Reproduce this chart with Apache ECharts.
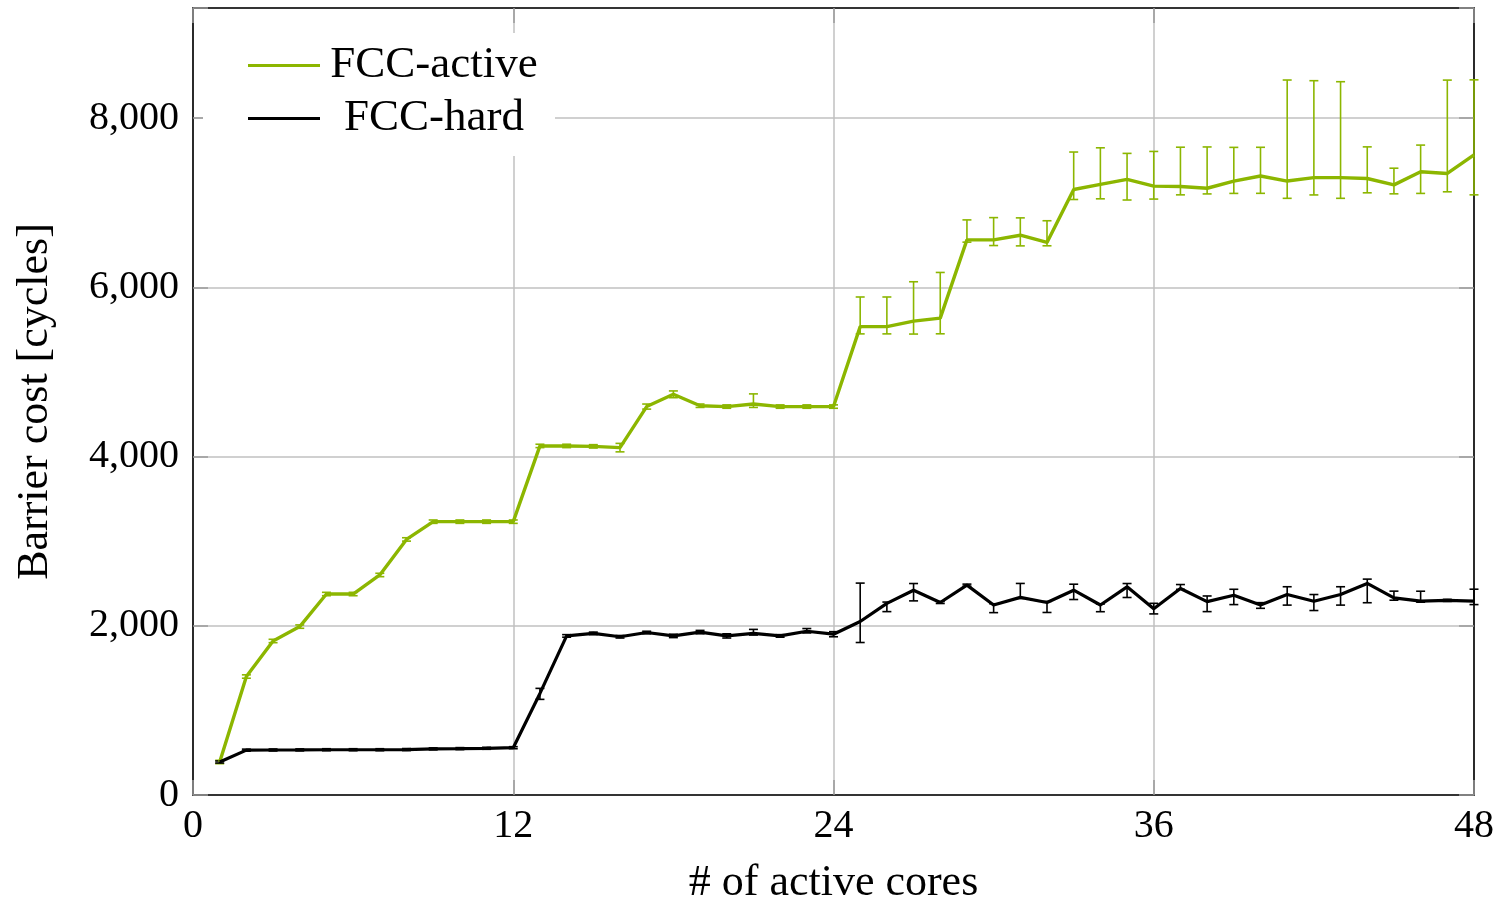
<!DOCTYPE html>
<html><head><meta charset="utf-8">
<script src="https://cdn.jsdelivr.net/npm/echarts@6/dist/echarts.min.js"></script>
<style>html,body{margin:0;padding:0;background:#fff}#c{width:1498px;height:904px}</style>
</head><body><div id="c"></div>
<script>
const cores = [1,2,3,4,5,6,7,8,9,10,11,12,13,14,15,16,17,18,19,20,21,22,23,24,25,26,27,28,29,30,31,32,33,34,35,36,37,38,39,40,41,42,43,44,45,46,47,48];
const activeVals = [390,1400,1820,1990,2375,2375,2600,3020,3230,3230,3230,3230,4125,4125,4120,4105,4590,4735,4600,4590,4620,4590,4590,4590,5535,5535,5600,5635,6560,6560,6615,6530,7155,7215,7275,7195,7190,7170,7255,7315,7255,7295,7295,7285,7210,7365,7345,7565];
const activeErrUp = [20,20,20,20,20,20,20,20,20,20,20,20,20,20,20,50,30,40,20,20,120,20,20,20,350,350,465,540,236,263,205,256,443,433,307,410,465,488,398,339,1194,1146,1134,374,197,315,1103,886];
const activeErrDown = [20,20,20,20,20,20,20,20,20,20,20,20,20,20,20,50,30,40,20,20,40,20,20,20,86,86,153,185,27,67,126,40,118,170,244,153,98,67,146,205,204,204,244,169,106,256,217,473];
const hardVals = [390,530,532,533,535,535,535,537,545,548,552,559,1200,1880,1910,1870,1920,1880,1925,1880,1910,1880,1935,1900,2050,2265,2420,2275,2480,2245,2335,2275,2420,2245,2460,2200,2440,2285,2360,2245,2370,2290,2370,2500,2330,2290,2300,2290];
const hardErrUp = [12,12,12,12,12,12,12,12,12,12,12,12,60,15,15,15,15,20,20,25,47,15,32,30,454,15,79,12,12,15,165,12,71,12,39,65,47,67,71,28,91,79,91,51,79,118,12,142];
const hardErrDown = [12,12,12,12,12,12,12,12,12,12,12,12,70,15,15,15,15,20,20,25,20,15,20,30,248,98,126,12,12,90,12,118,110,79,126,60,10,118,110,39,126,110,126,228,28,12,12,40];
const xTicks = [0,12,24,36,48];
const yTicks = [0,2000,4000,6000,8000];

const GREEN = '#8cb600', BLACK = '#000000';
const FONT = 'Liberation Serif';

function errData(vals, up, down){ return cores.map((c,i)=>[c, vals[i]-down[i], vals[i]+up[i]]); }
function errRender(color){
  return function(params, api){
    const x = api.value(0), lo = api.value(1), hi = api.value(2);
    const t = api.coord([x, hi]), b = api.coord([x, lo]);
    const w = 4.5, st = {stroke: color, lineWidth: 1.6};
    return {type:'group', children:[
      {type:'line', shape:{x1:t[0], y1:t[1], x2:b[0], y2:b[1]}, style:st},
      {type:'line', shape:{x1:t[0]-w, y1:t[1], x2:t[0]+w, y2:t[1]}, style:st},
      {type:'line', shape:{x1:b[0]-w, y1:b[1], x2:b[0]+w, y2:b[1]}, style:st}
    ]};
  };
}
const tickStyle = {show:true, inside:true, length:15, lineStyle:{color:'#9a9a9a', width:1.5}};
const frame = {show:true, onZero:false, lineStyle:{color:'#000', width:1.6}};

const chart = echarts.init(document.getElementById('c'));
chart.setOption({
  animation:false,
  backgroundColor:'#fff',
  grid:{left:193, right:24, top:8, bottom:109, containLabel:false, outerBoundsMode:'none'},
  legend:{
    left:203, top:33, orient:'vertical', backgroundColor:'#fff',
    padding:[6,12,11,45], itemGap:0, itemWidth:72, itemHeight:3, itemTextGap:13,
    icon:'rect',
    data:['FCC-active','FCC-hard'],
    formatter: n => '{a|' + n + '}',
    textStyle:{fontFamily:FONT, fontSize:45, color:'#000',
      rich:{a:{fontFamily:FONT, fontSize:45, width:218, align:'center', lineHeight:53, height:53}}}
  },
  xAxis:[{
    type:'value', min:0, max:48, interval:12,
    name:'# of active cores', nameLocation:'middle', nameGap:66,
    nameTextStyle:{fontFamily:FONT, fontSize:44, color:'#000'},
    axisLine:frame, axisTick:tickStyle,
    axisLabel:{fontFamily:FONT, fontSize:40, color:'#000', margin:11},
    splitLine:{show:true, lineStyle:{color:'#c0c0c0', width:1.5}}
  },{
    type:'value', position:'top', min:0, max:48, interval:12,
    axisLine:frame, axisTick:tickStyle, axisLabel:{show:false}, splitLine:{show:false}
  }],
  yAxis:[{
    type:'value', min:0, max:9300, interval:2000,
    name:'Barrier cost [cycles]', nameLocation:'middle', nameGap:136,
    nameTextStyle:{fontFamily:FONT, fontSize:44, color:'#000'},
    axisLine:frame, axisTick:tickStyle,
    axisLabel:{fontFamily:FONT, fontSize:40, color:'#000', margin:14,
      formatter: v => yTicks.includes(v) ? v.toLocaleString('en-US') : ''},
    splitLine:{show:true, lineStyle:{color:'#c0c0c0', width:1.5}}
  },{
    type:'value', position:'right', min:0, max:9300, interval:2000,
    axisLine:frame, axisTick:tickStyle, axisLabel:{show:false}, splitLine:{show:false}
  }],
  series:[
    {name:'FCC-active', type:'line', data:cores.map((c,i)=>[c, activeVals[i]]), symbol:'none',
      lineStyle:{color:GREEN, width:3.4}, itemStyle:{color:GREEN}, z:3},
    {name:'FCC-hard', type:'line', data:cores.map((c,i)=>[c, hardVals[i]]), symbol:'none',
      lineStyle:{color:BLACK, width:3.2}, itemStyle:{color:BLACK}, z:3},
    {name:'FCC-active', type:'custom', data:errData(activeVals, activeErrUp, activeErrDown), renderItem:errRender(GREEN), z:2, encode:{x:0, y:[1,2]}},
    {name:'FCC-hard', type:'custom', data:errData(hardVals, hardErrUp, hardErrDown), renderItem:errRender(BLACK), z:2, encode:{x:0, y:[1,2]}}
  ]
});
</script></body></html>
